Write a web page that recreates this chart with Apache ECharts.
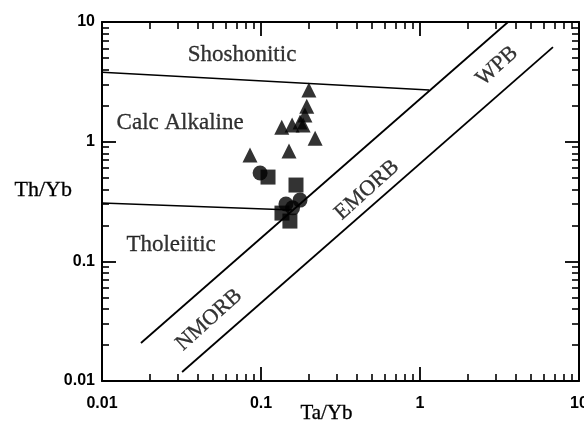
<!DOCTYPE html>
<html><head><meta charset="utf-8">
<script src="https://cdn.jsdelivr.net/npm/echarts@6/dist/echarts.min.js"></script>
<style>html,body{margin:0;padding:0;background:#fff}#c{width:584px;height:434px}</style>
</head><body><div id="c"></div>
<script>
// Tick values
const majorTicks = [0.01, 0.1, 1, 10];
const minorTicks = [0.02,0.03,0.04,0.05,0.06,0.07,0.08,0.09,0.2,0.3,0.4,0.5,0.6,0.7,0.8,0.9,2,3,4,5,6,7,8,9];
const tickLabels = ['0.01', '0.1', '1', '10'];

// Samples [Ta/Yb, Th/Yb]
const triangles = [[0.200,2.70],[0.194,1.98],[0.189,1.67],[0.176,1.46],[0.157,1.38],[0.135,1.32],[0.184,1.38],[0.219,1.07],[0.150,0.834],[0.0853,0.773]];
const circles = [[0.0987,0.547],[0.1435,0.301],[0.176,0.325],[0.158,0.280]];
const squares = [[0.1107,0.506],[0.166,0.434],[0.1355,0.253],[0.152,0.217]];

// Field boundaries
const shoshLine = [[0.01,3.81],[1.14,2.70]];
const tholLine = [[0.01,0.307],[0.157,0.268]];
const morbUpper = [[0.01758,0.02076],[3.58,10]];
const morbLower = [[0.0319,0.0119],[6.86,6.17]];

// Field names
const fieldNames = ['Shoshonitic','Calc Alkaline','Tholeiitic','NMORB','EMORB','WPB'];
const fieldPos = [[0.076,5.3],[0.031,1.42],[0.0272,0.138],[0.0471,0.0324],[0.464,0.394],[3.05,4.29]];
const fieldRot = [0,0,0,42,42,42];

const tickFont = {fontFamily:'Liberation Sans', fontSize:16, fontWeight:'bold', color:'#000'};
const lineStyleAx = {color:'#000', width:2};

function axisPair(kind, pos){
  const isX = kind === 'x';
  const base = {type:'log', logBase:10, min:0.01, max:10, position:pos, gridIndex:0, splitLine:{show:false}};
  const showLab = (pos === 'bottom' || pos === 'left');
  const major = Object.assign({}, base, {
    axisLine:{show:true, onZero:false, lineStyle:lineStyleAx},
    axisTick:{show:true, inside:true, length:14, customValues:majorTicks, lineStyle:{color:'#000', width:1.8}},
    axisLabel:{show:showLab, customValues:majorTicks, margin: isX ? 15 : 7,
      formatter:(v)=>tickLabels[majorTicks.findIndex(t=>Math.abs(Math.log10(t)-Math.log10(v))<1e-6)] ?? '', ...tickFont}
  });
  if (showLab){
    if (isX){ Object.assign(major,{name:'Ta/Yb', nameLocation:'middle', nameGap:22, nameMoveOverlap:false,
      nameTextStyle:{fontFamily:'Liberation Serif', fontSize:21, color:'#000', padding:[0,28,0,0], textBorderColor:'#000', textBorderWidth:0.3}}); }
    else { Object.assign(major,{name:'Th/Yb', nameLocation:'middle', nameGap:30, nameRotate:0, nameMoveOverlap:false,
      nameTextStyle:{fontFamily:'Liberation Serif', fontSize:22, color:'#000', align:'right', verticalAlign:'bottom', textBorderColor:'#000', textBorderWidth:0.3}}); }
  }
  const minor = Object.assign({}, base, {
    axisLine:{show:false},
    axisTick:{show:true, inside:true, length:7, customValues:minorTicks, lineStyle:{color:'#000', width:1.6}},
    axisLabel:{show:false}
  });
  return [major, minor];
}

const xAxes = [...axisPair('x','bottom'), ...axisPair('x','top')];
const yAxes = [...axisPair('y','left'), ...axisPair('y','right')];

const lineSeries = (d, w) => ({type:'line', data:d, xAxisIndex:0, yAxisIndex:0, symbol:'none', silent:true,
  lineStyle:{color:'#000', width:w}, z:2});
const ptSeries = (d, sym) => ({type:'scatter', data:d, xAxisIndex:0, yAxisIndex:0, symbol:sym, symbolSize:15,
  itemStyle:{color:'#000'}, z:3});

const labelData = fieldNames.map((n,i)=>({value:fieldPos[i], name:n, label:{rotate:fieldRot[i], fontSize: i>=3 ? 22 : 23}}));

const chart = echarts.init(document.getElementById('c'), null, {renderer:'canvas'});
chart.setOption({
  animation:false,
  backgroundColor:'#fff',
  grid:{left:102, right:5, top:22, bottom:53, containLabel:false, outerBoundsMode:'none'},
  xAxis:xAxes,
  yAxis:yAxes,
  series:[
    lineSeries(shoshLine,1.5), lineSeries(tholLine,1.5), lineSeries(morbUpper,1.8), lineSeries(morbLower,1.8),
    ptSeries(triangles,'triangle'), ptSeries(circles,'circle'), ptSeries(squares,'rect'),
    {type:'scatter', data:labelData, xAxisIndex:0, yAxisIndex:0, symbolSize:1, itemStyle:{color:'rgba(0,0,0,0)'},
     label:{show:true, position:'inside', formatter:(p)=>p.name, fontFamily:'Liberation Serif', color:'#000', textBorderColor:'#000', textBorderWidth:0.3}, z:4, silent:true}
  ]
});
</script></body></html>
